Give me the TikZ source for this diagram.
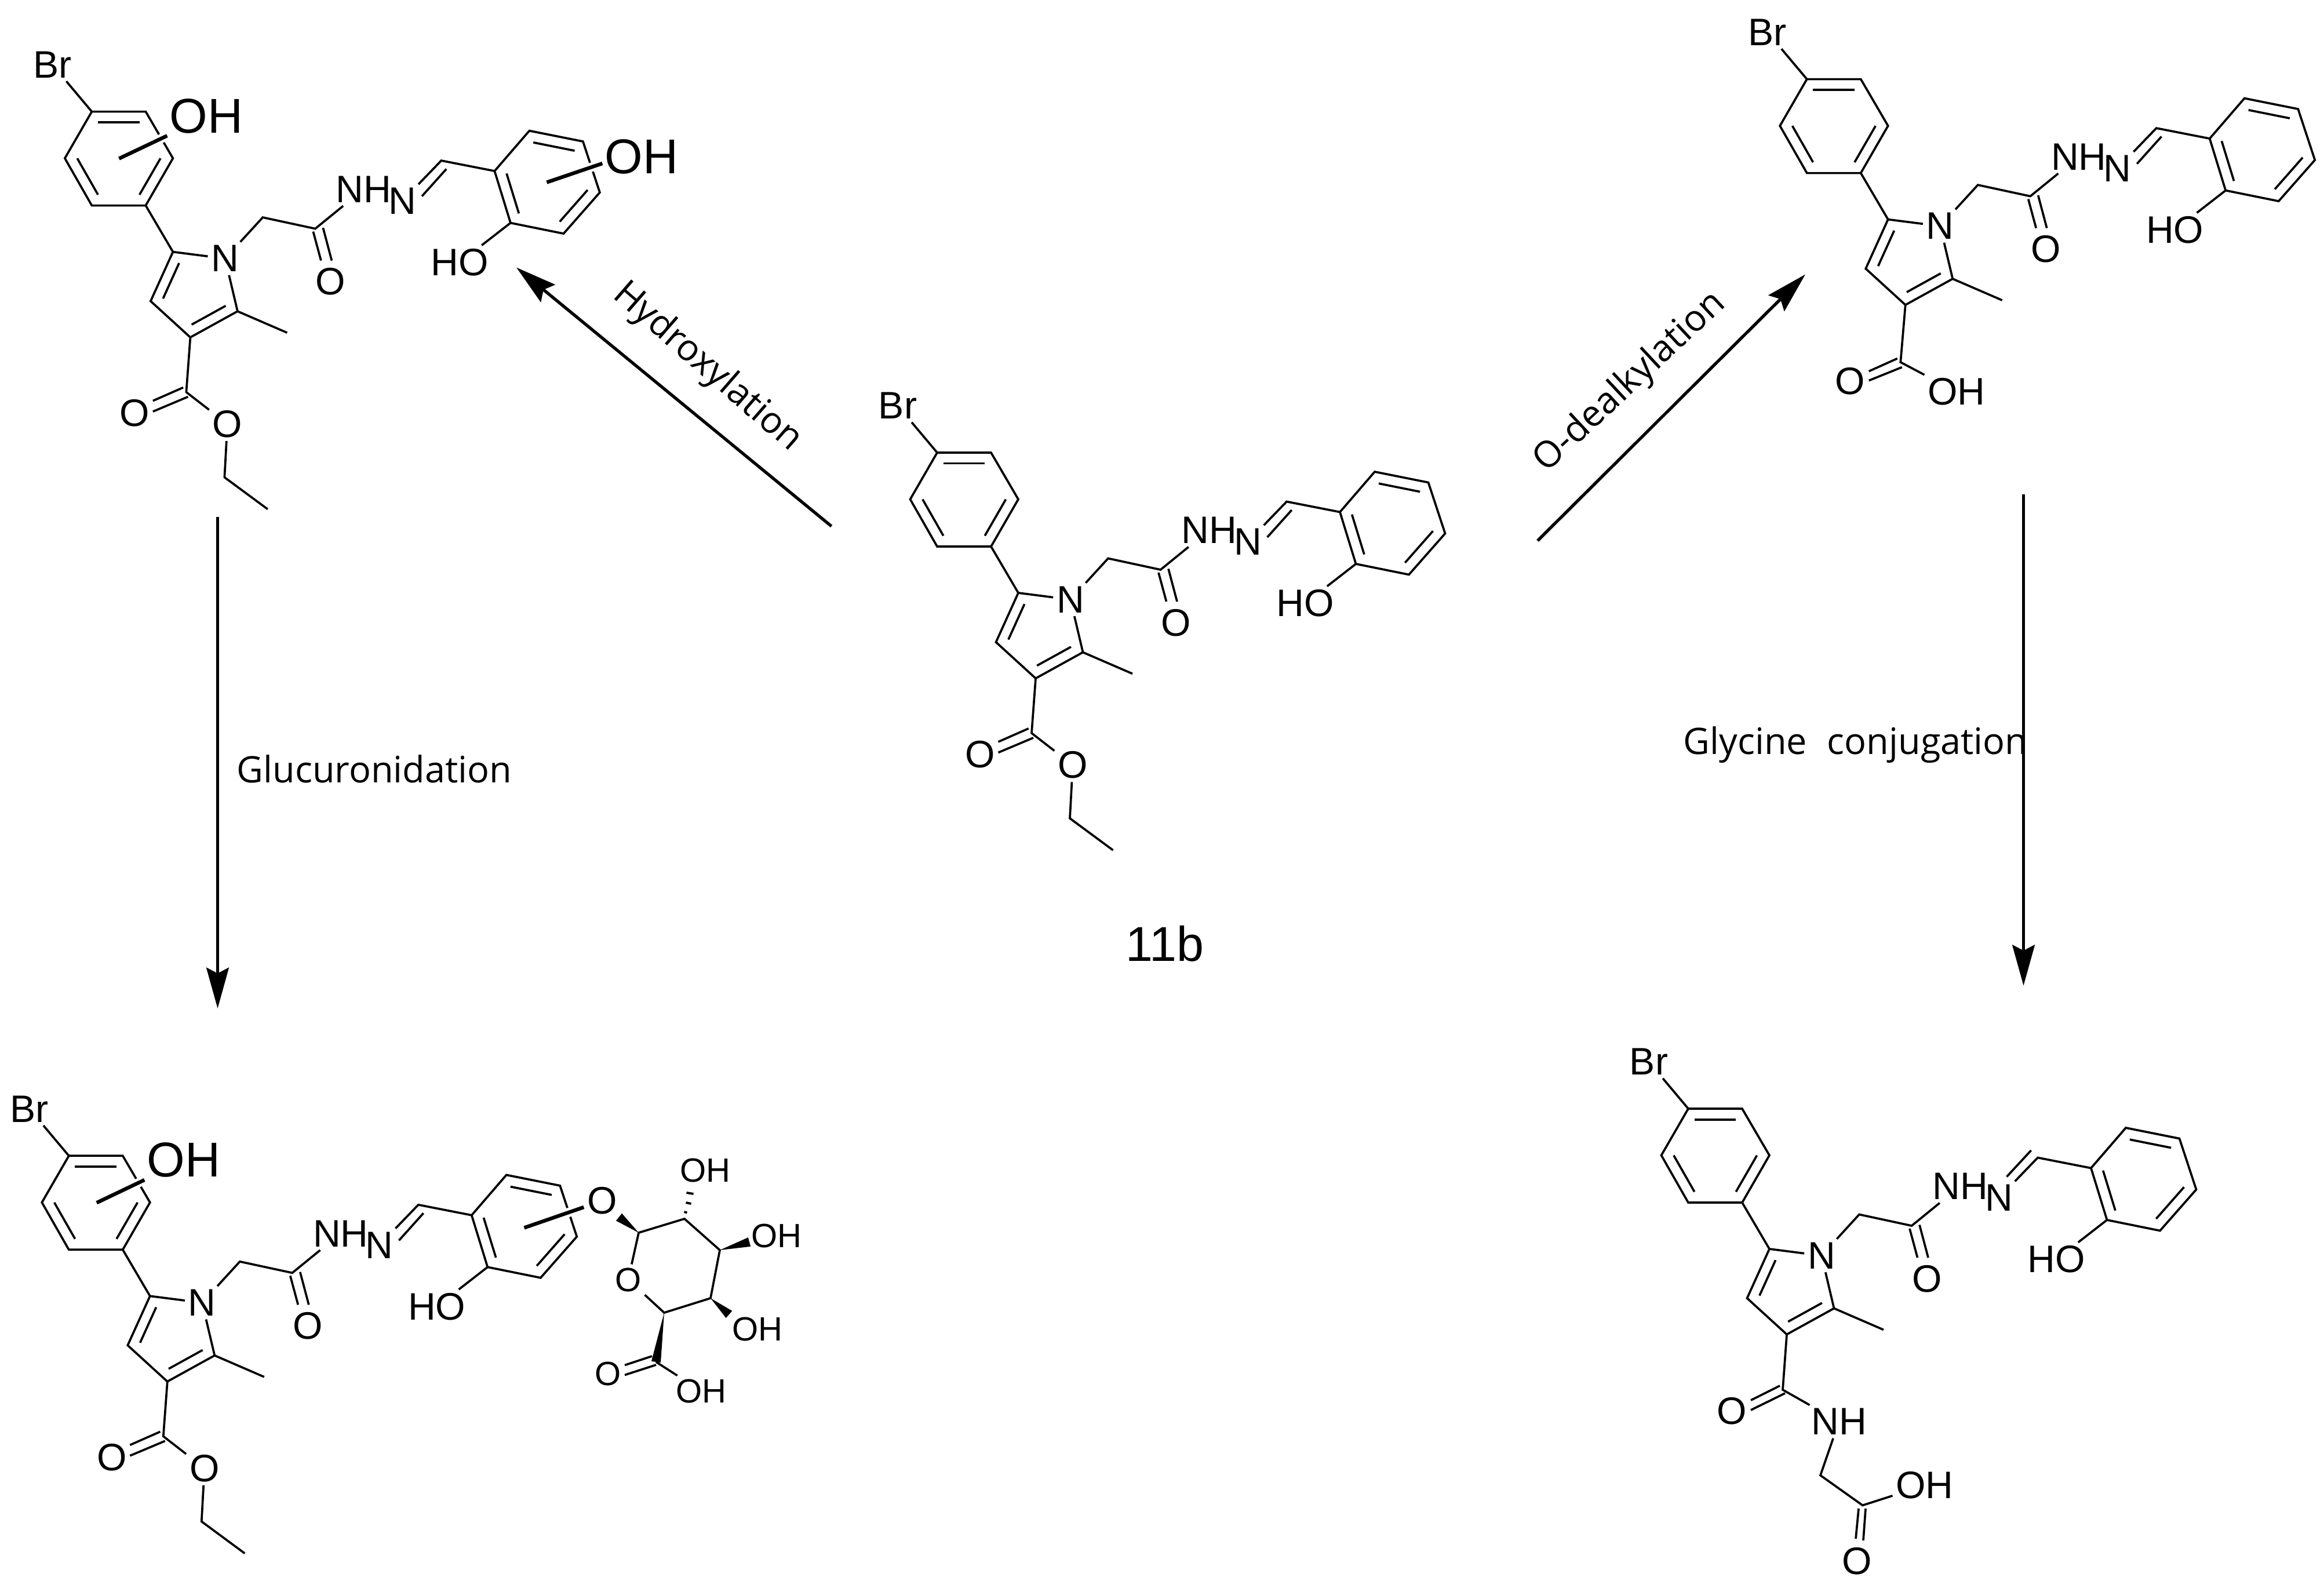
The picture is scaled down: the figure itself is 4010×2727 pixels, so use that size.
\documentclass[tikz,border=0pt]{standalone}
\usepackage{fontspec}
\setmainfont{Liberation Sans}
\newfontfamily\stepfont{Open Sans}
\usetikzlibrary{arrows.meta,calc}

\tikzset{
  bond/.style={line width=1.05pt},
  subbond/.style={line width=1.8pt, preaction={draw=white, line width=4.5pt}},
  atom/.style={font=\fontsize{18.8}{20}\selectfont, inner sep=1.5pt},
  sugaratom/.style={font=\fontsize{16.5}{18}\selectfont, inner sep=1.5pt},
  bigatom/.style={font=\fontsize{24}{26}\selectfont, inner sep=1pt},
  steparrow/.style={line width=1.5pt, -{Stealth[length=20pt, width=11pt, inset=2.8pt]}},
  steplabel/.style={font=\stepfont\fontsize{17.9}{20}\selectfont, inner sep=0pt},
}

% second line of a ring double bond, pulled towards the ring centre
\newcommand{\innerbond}[4]{\draw[bond] ($(#1)!#4!(#3)$) -- ($(#2)!#4!(#3)$);}
\newcommand{\wedgebond}[2]{\fill ($(#1)$) -- ($(#2)!2.3pt!90:(#1)$) -- ($(#2)!2.3pt!-90:(#1)$) -- cycle;}

% the part all five molecules share, origin at the ring carbon next to Br
\newcommand{\corepart}[1]{
  \coordinate (#1ph1) at (0,0);
  \coordinate (#1ph2) at (93,0);
  \coordinate (#1ph3) at (140,80.5);
  \coordinate (#1ph4) at (93,162);
  \coordinate (#1ph5) at (0,162);
  \coordinate (#1ph6) at (-46.5,80.5);
  \coordinate (#1phc) at (46.5,81);
  \coordinate (#1py1) at (140,242);
  \coordinate (#1py2) at (251.5,344.5);
  \coordinate (#1py3) at (170,389.5);
  \coordinate (#1py4) at (101.5,327);
  \coordinate (#1pyc) at (178,311);
  \coordinate (#1me) at (337,381.5);
  \coordinate (#1ch2) at (295,182.5);
  \coordinate (#1co) at (385.5,202);
  \coordinate (#1ch) at (603,84.5);
  \coordinate (#1ar1) at (695,102.5);
  \coordinate (#1ar2) at (755,33);
  \coordinate (#1ar3) at (847.5,51.5);
  \coordinate (#1ar4) at (876.5,139.5);
  \coordinate (#1ar5) at (814,210.5);
  \coordinate (#1ar6) at (722.5,192);
  \coordinate (#1arc) at (785,121);

  \node[atom] (#1br) at (-68,-81) {Br};
  \node[atom] (#1n) at (230,253.5) {N};
  \node[atom] (#1o) at (412,293.5) {O};
  \node[atom] (#1nh) at (469,134) {NH};
  \node[atom] (#1nn) at (536,154) {N};
  \node[atom] (#1ho) at (635,260) {HO};

  \draw[bond] (#1br) -- (#1ph1);
  \draw[bond] (#1ph1) -- (#1ph2) -- (#1ph3) -- (#1ph4) -- (#1ph5) -- (#1ph6) -- cycle;
  \innerbond{#1ph1}{#1ph2}{#1phc}{.23}
  \innerbond{#1ph3}{#1ph4}{#1phc}{.23}
  \innerbond{#1ph5}{#1ph6}{#1phc}{.23}

  \draw[bond] (#1ph4) -- (#1py1);
  \draw[bond] (#1n) -- (#1py1) -- (#1py4) -- (#1py3) -- (#1py2) -- (#1n);
  \innerbond{#1py1}{#1py4}{#1pyc}{.28}
  \innerbond{#1py2}{#1py3}{#1pyc}{.28}
  \draw[bond] (#1py2) -- (#1me);

  \draw[bond] (#1n) -- (#1ch2) -- (#1co) -- (#1nh);
  \draw[bond] (382,207) -- (395.5,257);
  \draw[bond] (399,200.5) -- (414,257);
  \draw[bond] (#1nn) -- (#1ch) -- (#1ar1);

  \draw[bond] (#1ar1) -- (#1ar2) -- (#1ar3) -- (#1ar4) -- (#1ar5) -- (#1ar6) -- cycle;
  \innerbond{#1ar2}{#1ar3}{#1arc}{.23}
  \innerbond{#1ar4}{#1ar5}{#1arc}{.23}
  \innerbond{#1ar6}{#1ar1}{#1arc}{.23}
  \draw[bond] (#1ar6) -- (#1ho);
}

% the ethyl ester on the pyrrole
\newcommand{\esterpart}[1]{
  \coordinate (#1est) at (163,484);
  \coordinate (#1et1) at (229,631);
  \coordinate (#1et2) at (303.5,686);
  \node[atom] (#1eo1) at (74,520.5) {O};
  \node[atom] (#1eo2) at (234,539) {O};
  \draw[bond] (#1py3) -- (#1est) -- (#1eo2) -- (#1et1) -- (#1et2);
  \draw[bond] (105.5,499) -- (157.7,476);
  \draw[bond] (105.5,517.5) -- (166,492);
}

\begin{document}
\begin{tikzpicture}[x=0.01cm, y=-0.01cm]
  \useasboundingbox (0,0) rectangle (4010,2727);

  % parent compound
  \begin{scope}[shift={(1617,781)}]
    \corepart{c}
    \esterpart{c}
    \draw[bond] (611.8,99) -- (569.6,146);
  \end{scope}
  \node[bigatom] (cname) at (2010,1628) {11b};

  % hydroxylated product
  \begin{scope}[shift={(158.4,192.6)}]
    \corepart{h}
    \esterpart{h}
    \draw[bond] (611.8,99) -- (569.6,146);
    \coordinate (hs1) at (47,81);
    \coordinate (hs2) at (785,122);
    \node[bigatom] (hoh1) at (197.5,7.5) {OH};
    \node[bigatom] (hoh2) at (948.5,77.5) {OH};
    \draw[subbond] (hs1) -- (hoh1.south west);
    \draw[subbond] (hs2) -- (hoh2.190);
  \end{scope}

  % glucuronide
  \begin{scope}[shift={(118.8,1994.3)}]
    \corepart{g}
    \esterpart{g}
    \draw[bond] (611.8,99) -- (569.6,146);
    \coordinate (gs1) at (48,81);
    \coordinate (gs2) at (785.7,124.2);
    \node[bigatom] (goh1) at (198,7.5) {OH};
  \end{scope}
  \node[atom] (gso) at (1039,2072) {O};
  \draw[subbond] (gs1) -- (goh1.south west);
  \draw[subbond] (gs2) -- (gso);

  % sugar ring
  \coordinate (su1) at (1102,2127);
  \coordinate (su2) at (1181,2103);
  \coordinate (su3) at (1242,2157);
  \coordinate (su4) at (1226,2240);
  \coordinate (su5) at (1146,2265);
  \coordinate (suc) at (1132,2350);
  \coordinate (sw1) at (1068,2100);
  \coordinate (sw3) at (1293,2143);
  \coordinate (sw4) at (1258,2268);
  \node[sugaratom] (suo) at (1084,2208) {O};
  \node[sugaratom] (soh2) at (1217,2019) {OH};
  \node[sugaratom] (soh3) at (1340,2132) {OH};
  \node[sugaratom] (soh4) at (1307,2293) {OH};
  \node[sugaratom] (sco) at (1049,2370) {O};
  \node[sugaratom] (soh5) at (1210,2400) {OH};
  \draw[bond] (suo) -- (su1) -- (su2) -- (su3) -- (su4) -- (su5) -- (suo);
  \wedgebond{su1}{sw1}
  \wedgebond{su3}{sw3}
  \wedgebond{su4}{sw4}
  \wedgebond{su5}{suc}
  \draw[line width=1.1pt] (1180.5,2091) -- (1185.5,2092.5);
  \draw[line width=1.1pt] (1183.5,2075) -- (1192.5,2077);
  \draw[line width=1.1pt] (1184.5,2058) -- (1196.5,2060);
  \draw[bond] (suc) -- (soh5);
  \draw[bond] (1078,2355.5) -- (1125,2340);
  \draw[bond] (1078,2372.5) -- (1132,2355);

  % acid
  \begin{scope}[shift={(3117.7,136.6)}]
    \corepart{a}
    \draw[bond] (611.8,99) -- (569.6,146);
    \coordinate (aest) at (161.6,488.4);
    \node[atom] (ao1) at (74.3,521.4) {O};
    \node[atom] (aoh) at (258.3,539.4) {OH};
    \draw[bond] (apy3) -- (aest) -- (aoh);
    \draw[bond] (107,504) -- (156,482);
    \draw[bond] (107,520) -- (164,497);
  \end{scope}

  % glycine amide
  \begin{scope}[shift={(2913,1913)}]
    \corepart{b}
    \draw[bond] (591.6,71.9) -- (549.5,117.4);
    \coordinate (best) at (163,485);
    \coordinate (bgl1) at (228,632.6);
    \coordinate (bgl2) at (300.8,684.4);
    \node[atom] (bo1) at (75,522) {O};
    \node[atom] (bnh) at (260,540) {NH};
    \node[atom] (boh) at (408,650) {OH};
    \node[atom] (bo2) at (291,781) {O};
    \draw[bond] (bpy3) -- (best) -- (bnh) -- (bgl1) -- (bgl2) -- (boh);
    \draw[bond] (108,503) -- (158,478);
    \draw[bond] (108,520) -- (167,491);
    \draw[bond] (294,690) -- (289,742);
    \draw[bond] (306,690) -- (302,745);
  \end{scope}

  % metabolic steps
  \coordinate (hstart) at (1434.6,908);
  \coordinate (hend) at (891,461.5);
  \coordinate (dstart) at (2653,933);
  \coordinate (dend) at (3115,473.5);
  \coordinate (gstart) at (375.5,892);
  \coordinate (gend) at (375.5,1740);
  \coordinate (ystart) at (3491.5,852.7);
  \coordinate (yend) at (3491.5,1700.7);
  \draw[steparrow] (hstart) -- (hend);
  \draw[steparrow] (dstart) -- (dend);
  \draw[steparrow] (gstart) -- (gend);
  \node[steplabel, rotate=-41] (hlabel) at (1220,634) {Hydroxylation};
  \node[steplabel, rotate=43] (dlabel) at (2813,660) {O-dealkylation};
  \node[steplabel] (glabel) at (646,1327) {Glucuronidation};
  \node[steplabel, anchor=east] (ylabel) at (3499,1285) {Glycine\hspace{0.55em}conjugation};
  \draw[steparrow] (ystart) -- (yend);
\end{tikzpicture}
\end{document}
